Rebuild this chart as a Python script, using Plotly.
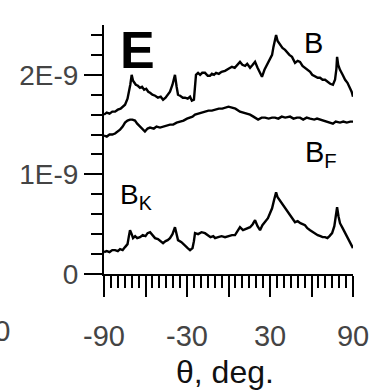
import plotly.graph_objects as go

# ---- data (theta in degrees, B in units of 1E-9) ----
b_theta = [-90, -88, -86, -84, -82, -80, -78, -76, -74.8, -73, -72, -71, -70, -69, -68, -67, -65.5, -64,
           -62.5, -61, -59.5, -58, -56.7, -55, -53, -51, -49, -47.3, -45.5, -44, -42.3, -40.5, -38.7,
           -37.5, -36.5, -35, -33, -31.4, -29.5, -27.8, -26.5, -25, -24.2, -23.5, -22, -20.5, -19, -17,
           -15, -13.4, -12, -10.5, -9, -7, -5, -2.5, 0, 2.5, 4.5, 6.5, 8.3, 10, 12, 13.5, 15.6, 17.5,
           19.2, 21, 22.5, 24.2, 26, 27.9, 30, 31.5, 32.5, 33.5, 34.4, 35.5, 37.3, 39, 40.9, 42.5, 44,
           45.9, 47, 48.1, 50, 51.7, 53.5, 55.3, 57, 59, 60.5, 62.6, 64.5, 66.2, 68, 69.8, 71.5, 73.5,
           75.5, 77, 78, 78.5, 79.3, 80.6, 82.5, 84.3, 86, 87.9, 89, 90]
b_vals = [1.60, 1.62, 1.61, 1.63, 1.63, 1.65, 1.66, 1.68, 1.70, 1.76, 1.82, 1.90, 2.00, 1.94, 1.92, 1.90,
          1.89, 1.87, 1.88, 1.85, 1.86, 1.83, 1.82, 1.80, 1.79, 1.77, 1.78, 1.75, 1.77, 1.80, 1.83, 1.90,
          2.00, 1.88, 1.80, 1.79, 1.77, 1.77, 1.76, 1.78, 1.74, 1.75, 1.88, 2.00, 2.02, 2.00, 2.02, 2.02,
          1.99, 1.99, 2.01, 2.00, 2.02, 2.01, 2.03, 2.04, 2.06, 2.08, 2.07, 2.10, 2.13, 2.10, 2.09, 2.11,
          2.07, 2.10, 2.13, 2.07, 2.02, 1.98, 2.05, 2.10, 2.17, 2.20, 2.28, 2.35, 2.40, 2.34, 2.30, 2.27,
          2.25, 2.22, 2.20, 2.18, 2.15, 2.12, 2.14, 2.13, 2.09, 2.07, 2.05, 2.03, 2.00, 1.98, 1.97, 1.97,
          1.95, 1.95, 1.93, 1.91, 1.90, 1.95, 2.06, 2.18, 2.10, 2.05, 2.00, 1.95, 1.92, 1.87, 1.83, 1.78]

bf_theta = [-90, -88, -86, -84, -82, -80, -78.4, -76.5, -74.8, -73, -71.2, -69.5, -67.6, -66, -64, -62,
            -60.4, -58.5, -56.7, -54, -52, -49.5, -47, -45, -42.3, -40, -37.5, -35, -32.5, -30, -27.8,
            -26, -24.2, -22, -19.5, -17, -14.5, -12, -9.7, -7, -4.5, -2.5, 0, 2.5, 5, 8.3, 11, 13.5,
            15.6, 18, 21.4, 24, 26.4, 29, 31.5, 33.6, 36, 38.5, 41, 44.5, 47, 49.5, 51.7, 54, 56.5, 59,
            62, 64, 66.2, 68.5, 71, 73.4, 75.5, 77.5, 80.6, 83, 85.5, 88, 90]
bf_vals = [1.39, 1.38, 1.40, 1.40, 1.41, 1.43, 1.45, 1.48, 1.52, 1.54, 1.55, 1.55, 1.54, 1.51, 1.48, 1.45,
           1.43, 1.46, 1.47, 1.46, 1.48, 1.47, 1.48, 1.49, 1.50, 1.50, 1.52, 1.53, 1.54, 1.56, 1.57,
           1.58, 1.60, 1.61, 1.62, 1.63, 1.64, 1.64, 1.65, 1.66, 1.66, 1.67, 1.68, 1.67, 1.66, 1.63, 1.62,
           1.61, 1.60, 1.58, 1.55, 1.57, 1.57, 1.56, 1.57, 1.57, 1.56, 1.58, 1.57, 1.58, 1.56, 1.57, 1.57,
           1.55, 1.57, 1.56, 1.55, 1.56, 1.55, 1.54, 1.53, 1.52, 1.51, 1.53, 1.52, 1.53, 1.52, 1.53, 1.53]

bk_theta = [-90, -88, -86, -84, -82, -80, -78.4, -76.5, -74.8, -73, -72, -71.2, -70, -69, -67.5, -66, -64,
            -62, -60, -58.5, -56.7, -55, -53.1, -51, -49, -47.3, -45.5, -44, -42.3, -40.5, -38.7, -37.5,
            -36.5, -34, -31.4, -29.5, -27.8, -26, -25, -24.2, -22, -19.5, -17, -15, -13, -11, -9.7, -7.5,
            -5, -2.5, 0, 2.5, 4.7, 6.5, 8.3, 10.5, 12.5, 15.6, 17.5, 19.2, 21, 22.8, 24.5, 26.4, 28.5, 30,
            31.5, 32.9, 34.4, 35.5, 37.5, 39, 40.9, 42.5, 44, 46, 48.1, 50, 52, 55.3, 57, 59, 61, 62.6,
            64.5, 66.5, 68, 69.8, 71.5, 73, 74.9, 76.5, 77.7, 78.5, 79.5, 80.6, 82.5, 84.3, 86, 88, 90]
bk_vals = [0.22, 0.23, 0.22, 0.24, 0.24, 0.23, 0.25, 0.24, 0.27, 0.30, 0.38, 0.44, 0.40, 0.36, 0.38, 0.36,
           0.37, 0.39, 0.38, 0.41, 0.42, 0.39, 0.36, 0.35, 0.33, 0.31, 0.33, 0.34, 0.36, 0.40, 0.47, 0.38,
           0.34, 0.32, 0.28, 0.26, 0.24, 0.26, 0.33, 0.41, 0.40, 0.42, 0.41, 0.39, 0.37, 0.38, 0.36, 0.37,
           0.38, 0.37, 0.38, 0.39, 0.39, 0.43, 0.47, 0.44, 0.45, 0.47, 0.50, 0.54, 0.48, 0.44, 0.49, 0.52,
           0.56, 0.61, 0.66, 0.74, 0.82, 0.77, 0.73, 0.70, 0.66, 0.62, 0.60, 0.56, 0.52, 0.53, 0.51, 0.49,
           0.46, 0.44, 0.42, 0.41, 0.39, 0.38, 0.37, 0.37, 0.36, 0.38, 0.41, 0.48, 0.58, 0.67, 0.58, 0.51,
           0.46, 0.41, 0.37, 0.32, 0.26]

x_major = [-90, -60, -30, 0, 30, 60, 90]
x_labels = ["-90", "", "-30", "", "30", "", "90"]
y_major = [0, 1e-9, 2e-9]
y_labels = ["0", "1E-9", "2E-9"]

SCALE = 1e-9
FONT = "Liberation Sans, Arial, sans-serif"

fig = go.Figure()
for xs, ys in [(b_theta, b_vals), (bf_theta, bf_vals), (bk_theta, bk_vals)]:
    fig.add_trace(go.Scatter(x=xs, y=[v * SCALE for v in ys], mode="lines",
                             line=dict(color="black", width=2.4), showlegend=False))

fig.update_layout(
    width=371, height=390,
    margin=dict(l=104, r=18, t=25, b=116, autoexpand=False),
    paper_bgcolor="white", plot_bgcolor="white",
    font=dict(family=FONT, color="#333"),
)
fig.update_xaxes(
    range=[-90, 90], showgrid=False, zeroline=False, automargin=False,
    showline=True, linecolor="black", linewidth=2,
    tickmode="array", tickvals=x_major, ticktext=x_labels,
    ticks="outside", ticklen=21, tickwidth=2, tickcolor="black",
    tickfont=dict(size=29, color="#444", family=FONT),
    ticklabelstandoff=14,
    minor=dict(dtick=5, ticks="outside", ticklen=12, tickwidth=1.5, tickcolor="black"),
)
fig.update_yaxes(
    range=[0, 2.5e-9], showgrid=False, zeroline=False, automargin=False,
    showline=True, linecolor="black", linewidth=2,
    tickmode="array", tickvals=y_major, ticktext=y_labels,
    ticks="outside", ticklen=18, tickwidth=2, tickcolor="black",
    tickfont=dict(size=28, color="#444", family=FONT),
    minor=dict(dtick=0.2e-9, tick0=0, ticks="outside", ticklen=11, tickwidth=1.5, tickcolor="black"),
)

annos = [
    dict(text="<b>E</b>", x=-66, y=2.25e-9, xref="x", yref="y", xanchor="center", yanchor="middle",
         font=dict(size=52, color="black", family=FONT)),
    dict(text="B", x=61.8, y=2.32e-9, xref="x", yref="y", xanchor="center", yanchor="middle",
         font=dict(size=29, color="black", family=FONT)),
    dict(text="B<sub>F</sub>", x=54, y=1.20e-9, xref="x", yref="y", xanchor="left", yanchor="middle",
         font=dict(size=29, color="black", family=FONT)),
    dict(text="B<sub>K</sub>", x=-80, y=0.78e-9, xref="x", yref="y", xanchor="left", yanchor="middle",
         font=dict(size=28, color="black", family=FONT)),
    dict(text="θ, deg.", x=0.486, y=-0.394, xref="paper", yref="paper", xanchor="center", yanchor="middle",
         font=dict(size=32, color="#111", family=FONT)),
    dict(text="90", x=-0.369, y=-0.229, xref="paper", yref="paper", xanchor="right", yanchor="middle",
         font=dict(size=29, color="#444", family=FONT)),
]
for a in annos:
    fig.add_annotation(showarrow=False, **a)

fig.write_html("out.html")
